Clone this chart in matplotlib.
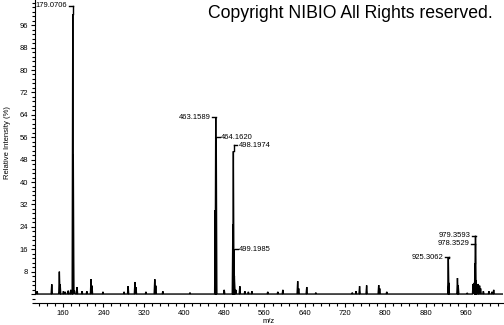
import numpy as np
from matplotlib import pyplot as plt
from matplotlib.ticker import MultipleLocator, FixedLocator

# peak list (m/z, relative intensity %)
peak_mz = [108.2, 137.3, 152.4, 154.0, 160.5, 164.0, 170.0, 175.0, 179.0706, 180.07,
           182.5, 187.5, 197.5, 207.0, 215.3, 217.2, 239.0, 281.0, 289.0, 302.6,
           304.6, 324.4, 342.0, 344.0, 358.0, 412.0, 462.15, 463.1589, 464.1620, 480.0,
           497.19, 498.1974, 499.1985, 500.2, 503.0, 511.0, 521.0, 528.0, 535.0, 566.5,
           586.5, 596.5, 626.0, 628.0, 644.0, 662.0, 734.5, 742.0, 749.0, 763.0,
           787.0, 789.0, 803.0, 925.3062, 926.3, 943.5, 945.0, 963.0, 974.5, 977.0,
           978.3529, 979.3593, 980.4, 984.5, 987.5, 989.5, 995.0, 1006.0, 1012.0, 1015.5]
peak_int = [1.0, 3.5, 8.0, 3.5, 1.0, 0.8, 1.2, 1.5, 100.0, 50.0,
            1.2, 2.5, 1.0, 1.0, 5.3, 3.0, 0.8, 0.8, 2.8, 4.3,
            2.5, 0.8, 5.3, 3.0, 1.0, 0.5, 30.0, 63.2, 56.0, 1.5,
            25.0, 51.0, 16.0, 6.5, 1.5, 2.8, 1.0, 0.8, 1.0, 0.8,
            0.8, 1.5, 4.6, 2.0, 2.5, 0.5, 0.5, 1.0, 2.8, 3.1,
            3.2, 2.0, 0.8, 13.0, 4.0, 5.7, 3.0, 0.4, 3.6, 4.0,
            11.0, 20.8, 5.0, 3.6, 3.0, 2.0, 1.0, 1.0, 0.8, 1.5]

# annotated peaks
label_mz = [179.0706, 463.1589, 464.1620, 498.1974, 499.1985, 925.3062, 978.3529, 979.3593]
label_peak = [100.0, 63.2, 56.0, 51.0, 16.0, 13.0, 11.0, 20.8]
label_y = [102.9, 63.2, 56.0, 53.2, 16.0, 13.2, 17.9, 20.8]
label_side = ['left', 'left', 'right', 'right', 'right', 'left', 'left', 'left']

copyright_text = 'Copyright NIBIO All Rights reserved.'

plt.rcParams['font.family'] = ['Liberation Sans', 'DejaVu Sans']

fig = plt.figure(figsize=(5.04, 3.25), dpi=100)
ax = fig.add_axes([35 / 504, 1 - 303 / 325, 468 / 504, 303 / 325])

# profile line: narrow triangles on a flat baseline
half_width = 1.2
xs = [104.0]
ys = [0.0]
for m, h in sorted(zip(peak_mz, peak_int)):
    xs += [m - half_width, m, m + half_width]
    ys += [0.0, h, 0.0]
xs.append(1034.0)
ys.append(0.0)
ax.plot(xs, ys, color='black', lw=1.0, solid_joinstyle='miter')

# peak labels with bracket lines
for m, hp, hy, side in zip(label_mz, label_peak, label_y, label_side):
    txt = f'{m:.4f}'
    if side == 'left':
        xv = m + 0.5
        if hy > hp:
            ax.plot([xv, xv], [hp, hy], color='black', lw=1.0)
        ax.plot([xv - 8, xv], [hy, hy], color='black', lw=1.0)
        ax.text(xv - 11, hy, txt, ha='right', va='center', fontsize=5.5)
    else:
        xv = m + 2
        if hy > hp:
            ax.plot([xv, xv], [hp, hy], color='black', lw=1.0)
        ax.plot([xv, xv + 6], [hy, hy], color='black', lw=1.0)
        ax.text(xv + 8, hy, txt, ha='left', va='center', fontsize=5.5)

ax.set_xlim(104, 1034)
ax.set_ylim(-3.2, 105)

ax.spines['top'].set_visible(False)
ax.spines['right'].set_visible(False)
ax.spines['left'].set_bounds(0, 105)

ax.xaxis.set_major_locator(FixedLocator(np.arange(160, 1000, 80)))
ax.xaxis.set_minor_locator(MultipleLocator(16))
ax.yaxis.set_major_locator(FixedLocator(np.arange(0, 100, 8)))
ax.yaxis.set_minor_locator(MultipleLocator(1.6))
ax.set_yticklabels([''] + [str(v) for v in range(8, 100, 8)])

ax.tick_params(axis='both', which='major', labelsize=5.5, length=3, width=0.8, pad=2)
ax.tick_params(axis='both', which='minor', length=2, width=0.8)

ax.set_xlabel('m/z', fontsize=5.5, labelpad=1)
fig.text(8 / 504, 1 - 143 / 325, 'Relative Intensity (%)', rotation=90,
         ha='center', va='center', fontsize=5.5)

fig.text(208 / 504, 1 - 18 / 325, copyright_text, ha='left', va='baseline', fontsize=12.7)

plt.savefig('out.png', dpi=100)
